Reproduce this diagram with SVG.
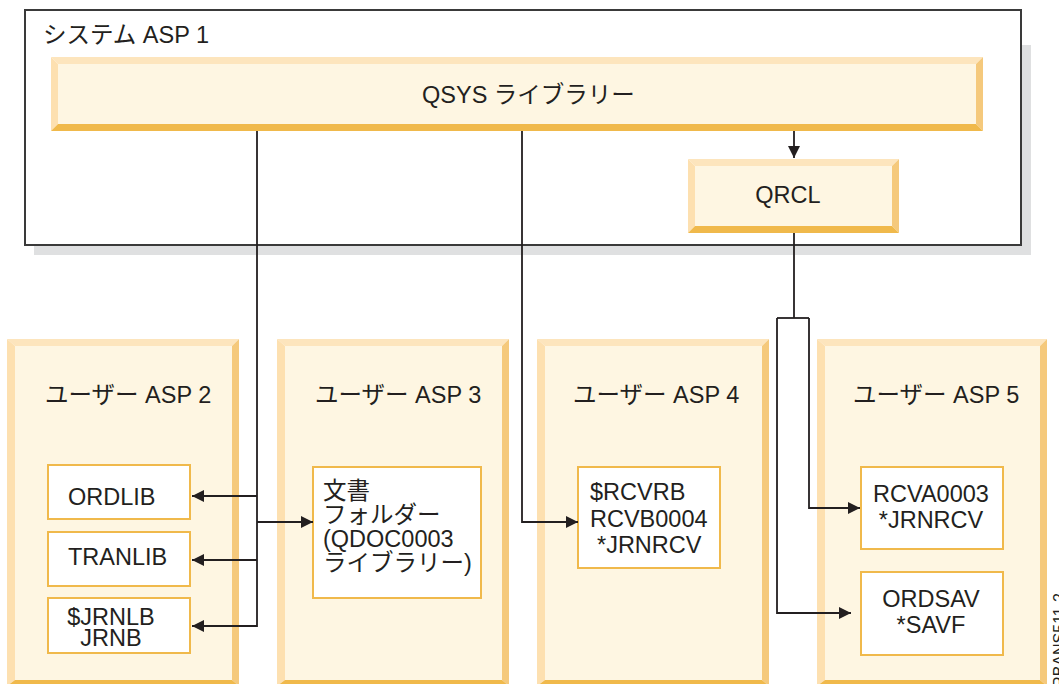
<svg xmlns="http://www.w3.org/2000/svg" width="1059" height="684" viewBox="0 0 1059 684">
<style>
  .t { font-family: "Liberation Sans", "Noto Sans CJK JP", sans-serif; font-size: 23.5px; fill: #231f20; }
  .lt { fill: #fde5bd; }
  .lf { fill: #fde0b0; }
  .rt { fill: #f5c97c; }
  .bt { fill: #f0b94b; }
  .in { fill: #fef6e2; }
  .wb { fill: #ffffff; stroke: #f0b94b; stroke-width: 2; }
  .ln { fill: none; stroke: #231f20; stroke-width: 1.8; }
</style>
<defs>
  <marker id="ah" markerUnits="userSpaceOnUse" markerWidth="12" markerHeight="12" refX="12" refY="6" orient="auto">
    <path d="M0,0 L12,6 L0,12 z" fill="#231f20"/>
  </marker>
</defs>
<rect width="1059" height="684" fill="#ffffff"/>

<g id="asp1">
  <rect x="34" y="45" width="997" height="210" fill="#dfe0e1"/>
  <rect x="25" y="10" width="996" height="235" fill="#ffffff" stroke="#3a3a3a" stroke-width="2"/>
  <text class="t" x="43" y="43">システム ASP 1</text>
</g>

<g id="qsys">
  <polygon class="lt" points="51,57 983,57 976,64 58,64"/>
  <polygon class="lf" points="51,57 58,64 58,124 51,131"/>
  <polygon class="rt" points="983,57 983,131 976,124 976,64"/>
  <polygon class="bt" points="51,131 983,131 976,124 58,124"/>
  <rect class="in" x="58" y="64" width="918" height="60"/>
  <text class="t" x="422" y="103">QSYS ライブラリー</text>
</g>

<g id="qrcl">
  <polygon class="lt" points="688,159 899,159 892,166 695,166"/>
  <polygon class="lf" points="688,159 695,166 695,226 688,233"/>
  <polygon class="rt" points="899,159 899,233 892,226 892,166"/>
  <polygon class="bt" points="688,233 899,233 892,226 695,226"/>
  <rect class="in" x="695" y="166" width="197" height="60"/>
  <text class="t" x="788" y="203" text-anchor="middle">QRCL</text>
</g>

<g id="asp2">
  <polygon class="lt" points="7,339 239,339 232,346 15,346"/>
  <polygon class="lf" points="7,339 15,346 15,680 7,686"/>
  <polygon class="rt" points="239,339 239,686 232,680 232,346"/>
  <polygon class="bt" points="7,686 239,686 232,680 15,680"/>
  <rect class="in" x="15" y="346" width="217" height="334"/>
  <text class="t" x="45" y="403">ユーザー ASP 2</text>
</g>
<g id="ordlib">
  <rect class="wb" x="48" y="465" width="142" height="54"/>
  <text class="t" x="68" y="505">ORDLIB</text>
</g>
<g id="tranlib">
  <rect class="wb" x="48" y="532" width="142" height="54"/>
  <text class="t" x="68" y="565">TRANLIB</text>
</g>
<g id="jrnlb">
  <rect class="wb" x="48" y="598" width="142" height="55"/>
  <text class="t" x="111" y="625" text-anchor="middle">$JRNLB</text>
  <text class="t" x="111" y="646" text-anchor="middle">JRNB</text>
</g>

<g id="asp3">
  <polygon class="lt" points="277,339 509,339 502,346 285,346"/>
  <polygon class="lf" points="277,339 285,346 285,680 277,686"/>
  <polygon class="rt" points="509,339 509,686 502,680 502,346"/>
  <polygon class="bt" points="277,686 509,686 502,680 285,680"/>
  <rect class="in" x="285" y="346" width="217" height="334"/>
  <text class="t" x="315" y="403">ユーザー ASP 3</text>
</g>
<g id="qdoc">
  <rect class="wb" x="313" y="467" width="168" height="131"/>
  <text class="t" x="323" y="499">文書</text>
  <text class="t" x="323" y="523">フォルダー</text>
  <text class="t" x="323" y="547">(QDOC0003</text>
  <text class="t" x="323" y="571">ライブラリー)</text>
</g>

<g id="asp4">
  <polygon class="lt" points="537,339 769,339 762,346 545,346"/>
  <polygon class="lf" points="537,339 545,346 545,680 537,686"/>
  <polygon class="rt" points="769,339 769,686 762,680 762,346"/>
  <polygon class="bt" points="537,686 769,686 762,680 545,680"/>
  <rect class="in" x="545" y="346" width="217" height="334"/>
  <text class="t" x="573" y="403">ユーザー ASP 4</text>
</g>
<g id="rcvrb">
  <rect class="wb" x="578" y="467" width="142" height="101"/>
  <text class="t" x="590" y="500">$RCVRB</text>
  <text class="t" x="590" y="527">RCVB0004</text>
  <text class="t" x="597" y="553">*JRNRCV</text>
</g>

<g id="asp5">
  <polygon class="lt" points="817,339 1047,339 1040,346 825,346"/>
  <polygon class="lf" points="817,339 825,346 825,680 817,686"/>
  <polygon class="rt" points="1047,339 1047,686 1040,680 1040,346"/>
  <polygon class="bt" points="817,686 1047,686 1040,680 825,680"/>
  <rect class="in" x="825" y="346" width="215" height="334"/>
  <text class="t" x="853" y="403">ユーザー ASP 5</text>
</g>
<g id="rcva">
  <rect class="wb" x="861" y="467" width="142" height="82"/>
  <text class="t" x="931" y="502" text-anchor="middle">RCVA0003</text>
  <text class="t" x="931" y="528" text-anchor="middle">*JRNRCV</text>
</g>
<g id="ordsav">
  <rect class="wb" x="861" y="572" width="142" height="83"/>
  <text class="t" x="931" y="607" text-anchor="middle">ORDSAV</text>
  <text class="t" x="931" y="633" text-anchor="middle">*SAVF</text>
</g>

<g id="connectors">
  <path class="ln" d="M794,131 V158" marker-end="url(#ah)"/>
  <path class="ln" d="M257,131 V626 H192" marker-end="url(#ah)"/>
  <path class="ln" d="M257,496 H192" marker-end="url(#ah)"/>
  <path class="ln" d="M257,560 H192" marker-end="url(#ah)"/>
  <path class="ln" d="M257,522 H313" marker-end="url(#ah)"/>
  <path class="ln" d="M522,131 V522 H578" marker-end="url(#ah)"/>
  <path class="ln" d="M794,233 V318"/>
  <path class="ln" d="M777,318 H809"/>
  <path class="ln" d="M809,318 V508 H860" marker-end="url(#ah)"/>
  <path class="ln" d="M777,318 V613 H851" marker-end="url(#ah)"/>
</g>

<text class="t" style="font-size:16px" transform="translate(1065,593) rotate(-90)" text-anchor="end">RBANS511-2</text>
</svg>
